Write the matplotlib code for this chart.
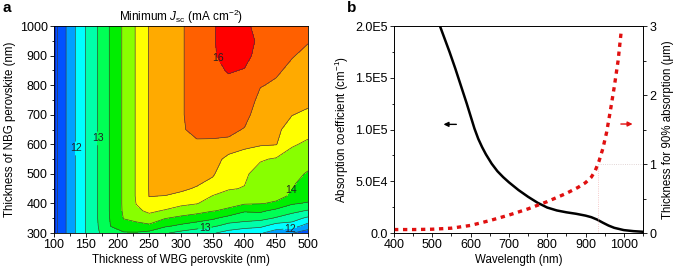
import matplotlib
matplotlib.use('Agg')
import matplotlib.pyplot as plt
import numpy as np

plt.rcParams['font.family'] = ['Liberation Sans', 'DejaVu Sans']
plt.rcParams['mathtext.fontset'] = 'custom'
plt.rcParams['mathtext.rm'] = 'Liberation Sans'
plt.rcParams['mathtext.it'] = 'Liberation Sans:italic'

# ---- panel a: minimum Jsc map ----
wbg = [100, 110, 120, 135, 150, 170, 190, 210, 230, 250, 275, 300, 325, 350, 375, 400, 425, 450, 475, 500]
nbg = [300, 325, 350, 375, 400, 425, 450, 500, 550, 600, 650, 700, 750, 800, 850, 900, 950, 1000]

# one list per WBG thickness, values going from NBG = 300 up to 1000
jsc_cols = [
    [10.85] * 18,
    [11.2] * 18,
    [11.53] * 18,
    [12.03] * 18,
    [12.52] * 18,
    [12.97, 13.01] + [13.03] * 16,
    [13.3, 13.53, 13.56] + [13.58] * 15,
    [13.45, 13.8, 14.02, 14.07] + [14.08] * 14,
    [13.45, 13.88, 14.12, 14.4, 14.52] + [14.55] * 13,
    [13.35, 13.92, 14.3, 14.6, 14.9, 15.01] + [15.02] * 12,
    [13.05, 13.6, 14.02, 14.45, 14.78, 14.99, 15.15, 15.2] + [15.25] * 10,
    [12.85, 13.42, 13.87, 14.3, 14.6, 14.93, 15.05, 15.22, 15.35, 15.42] + [15.47] * 8,
    [12.7, 13.25, 13.75, 14.17, 14.52, 14.8, 14.97, 15.15, 15.33, 15.46, 15.57] + [15.62] * 7,
    [12.55, 13.1, 13.58, 14.02, 14.3, 14.48, 14.78, 15.06, 15.28, 15.45, 15.58, 15.68, 15.75, 15.82, 15.9, 15.96, 15.97, 15.97],
    [12.3, 12.85, 13.3, 13.92, 14.12, 14.35, 14.53, 14.62, 14.8, 15.42, 15.58, 15.7, 15.8, 15.9, 16.03, 16.12, 16.15, 16.12],
    [12.1, 12.75, 13.2, 13.55, 14.05, 14.3, 14.48, 14.58, 14.8, 15.1, 15.48, 15.62, 15.72, 15.85, 15.98, 16.12, 16.15, 16.05],
    [12.05, 12.65, 13.15, 13.6, 14.02, 14.12, 14.2, 14.3, 14.55, 15.05, 15.2, 15.3, 15.4, 15.52, 15.7, 15.85, 15.92, 15.92],
    [11.75, 12.3, 12.95, 13.35, 13.95, 14.1, 14.18, 14.3, 14.45, 15.02, 15.1, 15.2, 15.35, 15.45, 15.55, 15.65, 15.75, 15.8],
    [11.52, 12.3, 12.7, 13.15, 13.55, 13.95, 13.99, 14.15, 14.3, 14.55, 14.8, 15.01, 15.15, 15.32, 15.42, 15.52, 15.6, 15.7],
    [11.25, 11.8, 12.4, 12.95, 13.45, 13.72, 13.8, 13.95, 14.2, 14.42, 14.65, 14.92, 15.1, 15.25, 15.35, 15.42, 15.52, 15.6],
]

levels = [10, 11, 11.5, 12, 12.5, 13, 13.5, 14, 14.5, 15, 15.5, 16, 17]
fill_colors = ['#0a2ccc', '#0052ff', '#00a0ff', '#00ffff', '#00ffaa', '#00ff55',
               '#00ee00', '#88ff00', '#ffff00', '#ffaa00', '#ff6000', '#ff0000']
line_levels = [11, 11.5, 12.5, 13.5, 14.5, 15, 15.5]
label_levels = [12, 13, 14, 16]
label_pos = [(134, 586), (167, 620), (474, 445), (338, 313), (472, 316), (353, 885)]

# ---- panel b: absorption coefficient and 90 % absorption thickness ----
wl_alpha = [520, 530, 545, 560, 575, 590, 600, 610, 620, 630, 640, 655, 670, 685, 700, 725, 750,
            775, 800, 825, 850, 875, 900, 915, 930, 945, 960, 975, 1000, 1025, 1050]
alpha = [2.0e5, 1.9e5, 1.75e5, 1.59e5, 1.42e5, 1.25e5, 1.13e5, 1.01e5, 0.91e5, 0.83e5,
         0.76e5, 0.67e5, 0.597e5, 0.54e5, 0.49e5, 0.415e5, 0.35e5, 0.292e5, 0.246e5,
         0.218e5, 0.2e5, 0.186e5, 0.168e5, 0.153e5, 0.13e5, 0.1e5, 0.072e5, 0.05e5,
         0.028e5, 0.018e5, 0.012e5]

wl_thick = [400, 450, 500, 550, 600, 650, 700, 750, 800, 850, 880, 900, 915, 925, 935,
            945, 955, 965, 975, 985, 993]
thick = [0.05, 0.05, 0.055, 0.07, 0.11, 0.18, 0.26, 0.35, 0.455, 0.575, 0.66, 0.73, 0.81,
         0.9, 1.04, 1.22, 1.46, 1.78, 2.12, 2.5, 2.92]

fig = plt.figure(figsize=(6.78, 2.73), dpi=100)

ax1 = fig.add_axes([0.0796, 0.1465, 0.3746, 0.758])
X, Y = np.meshgrid(wbg, nbg)
Z = np.array(jsc_cols).T
ax1.contourf(X, Y, Z, levels=levels, colors=fill_colors)
ax1.contour(X, Y, Z, levels=line_levels, colors='#3a3a3a', linewidths=0.45)
cs = ax1.contour(X, Y, Z, levels=label_levels, colors='#3a3a3a', linewidths=0.45)
labels = ax1.clabel(cs, manual=label_pos, fmt='%d', fontsize=7.5, inline=True, inline_spacing=1)
for t in labels:
    t.set_rotation(0)
    t.set_color('#222222')
ax1.set_xlim(100, 500)
ax1.set_ylim(300, 1000)
ax1.set_xticks(range(100, 501, 50))
ax1.set_xticks(range(100, 501, 25), minor=True)
ax1.set_yticks(range(300, 1001, 100))
ax1.set_yticks(range(300, 1001, 50), minor=True)
ax1.set_xlabel('Thickness of WBG perovskite (nm)', fontsize=8.3, labelpad=2)
ax1.set_ylabel('Thickness of NBG perovskite (nm)', fontsize=8.3, labelpad=3)
ax1.set_title('Minimum $J_{\\rm sc}$ (mA cm$^{-2}$)', fontsize=8.5, pad=3)

ax2 = fig.add_axes([0.5811, 0.1465, 0.3673, 0.758])
ax2.plot(wl_alpha, alpha, color='black', lw=1.8)
ax2.set_xlim(400, 1050)
ax2.set_ylim(0, 2.0e5)
ax2.set_xticks(range(400, 1001, 100))
ax2.set_xticks(range(400, 1051, 50), minor=True)
ax2.set_yticks([0, 5e4, 1e5, 1.5e5, 2e5])
ax2.set_yticklabels(['0.0', '5.0E4', '1.0E5', '1.5E5', '2.0E5'])
ax2.set_yticks(np.arange(0, 2.01e5, 2.5e4), minor=True)
ax2.set_xlabel('Wavelength (nm)', fontsize=8.3, labelpad=2)
ax2.set_ylabel('Absorption coefficient (cm$^{-1}$)', fontsize=8.3, labelpad=3)
ax2.annotate('', xy=(522, 1.05e5), xytext=(570, 1.05e5),
             arrowprops=dict(arrowstyle='-|>', color='black', lw=1.0, mutation_scale=7))

ax3 = ax2.twinx()
ax3.plot(wl_thick, thick, color='#e01010', lw=2.4, ls=(0, (1.3, 1.4)))
ax3.plot([933, 933], [0, 1.0], color='#f2b8b8', lw=0.6, ls=':')
ax3.plot([933, 1050], [1.0, 1.0], color='#d8c8c8', lw=0.6, ls=':')
ax3.set_ylim(0, 3)
ax3.set_yticks([0, 1, 2, 3])
ax3.set_yticks(np.arange(0, 3.01, 0.5), minor=True)
ax3.set_ylabel('Thickness for 90% absorption (\u03bcm)', fontsize=8.3, labelpad=4)
ax3.annotate('', xy=(1030, 1.58), xytext=(985, 1.58),
             arrowprops=dict(arrowstyle='-|>', color='#e01010', lw=1.0, mutation_scale=7))

for ax in (ax1, ax2, ax3):
    ax.tick_params(which='both', direction='out', labelsize=9, width=0.6, pad=1.5)
    ax.tick_params(which='major', length=3)
    ax.tick_params(which='minor', length=1.8)
    for sp in ax.spines.values():
        sp.set_linewidth(0.6)

fig.text(0.004, 0.955, 'a', fontsize=11, fontweight='bold')
fig.text(0.512, 0.955, 'b', fontsize=11, fontweight='bold')

fig.savefig('out.png', dpi=100)
